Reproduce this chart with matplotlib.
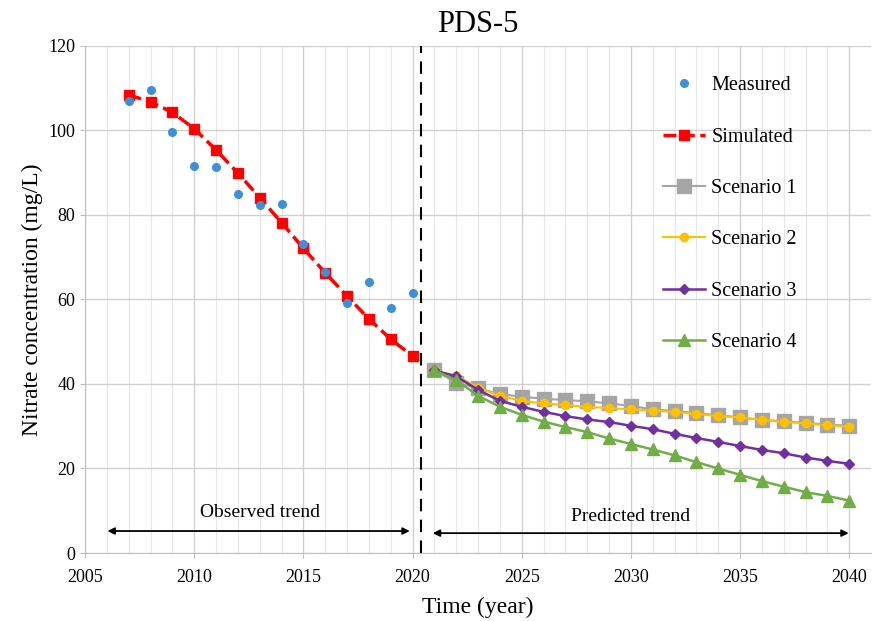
import numpy as np
import matplotlib.pyplot as plt

plt.rcParams['font.family'] = ['Liberation Serif', 'DejaVu Serif']

obs_years = np.arange(2007, 2021)
measured = [107.0, 109.6, 99.6, 91.7, 91.4, 85.0, 82.4, 82.7, 73.1, 66.5, 59.2, 64.2, 58.1, 61.5]
simulated = [108.4, 106.8, 104.3, 100.4, 95.4, 89.9, 84.1, 78.2, 72.1, 66.3, 60.8, 55.4, 50.6, 46.6]

pred_years = np.arange(2021, 2041)
scen1 = [43.2, 40.3, 39.0, 37.6, 37.0, 36.5, 36.2, 35.9, 35.4, 34.8,
         34.0, 33.6, 33.1, 32.6, 32.1, 31.5, 31.2, 30.8, 30.4, 30.1]
scen2 = [43.2, 42.0, 39.1, 37.2, 36.0, 35.4, 35.0, 34.6, 34.3, 34.0,
         33.7, 33.4, 32.9, 32.4, 32.1, 31.5, 31.0, 30.7, 30.2, 29.9]
scen3 = [43.2, 41.8, 38.6, 36.0, 34.6, 33.4, 32.4, 31.6, 31.0, 30.1,
         29.3, 28.2, 27.2, 26.3, 25.3, 24.4, 23.6, 22.6, 21.8, 21.1]
scen4 = [43.2, 40.9, 37.2, 34.6, 32.7, 31.1, 29.8, 28.6, 27.1, 25.8,
         24.5, 23.1, 21.5, 20.0, 18.5, 17.0, 15.7, 14.4, 13.5, 12.4]

fig = plt.figure(figsize=(8.72, 6.21), dpi=100)
ax = fig.add_axes([0.0975, 0.1095, 0.9015, 0.8165])

ax.plot(obs_years, measured, 'o', color='#3D8FD6', markersize=5.5, label='Measured', zorder=5)
ax.plot(obs_years, simulated, '--s', color='#FF0000', markersize=7.5, linewidth=2.5,
        label='Simulated', zorder=4)
ax.plot(pred_years, scen1, '-s', color='#A5A5A5', markersize=9.5, linewidth=1.5,
        label='Scenario 1', zorder=3)
ax.plot(pred_years, scen2, '-o', color='#FFC000', markersize=6, linewidth=1.5,
        label='Scenario 2', zorder=4)
ax.plot(pred_years, scen3, '-D', color='#7030A0', markersize=5, linewidth=1.8,
        label='Scenario 3', zorder=5)
ax.plot(pred_years, scen4, '-^', color='#70AD47', markersize=8, linewidth=1.8,
        label='Scenario 4', zorder=6)

ax.axvline(2020.4, color='black', linestyle=(0, (6, 4)), linewidth=1.5, zorder=7)

ax.annotate('', xy=(2005.9, 5.2), xytext=(2020.0, 5.2),
            arrowprops=dict(arrowstyle='<|-|>', color='black', lw=1.3, mutation_scale=10))
ax.annotate('', xy=(2020.8, 4.7), xytext=(2040.1, 4.7),
            arrowprops=dict(arrowstyle='<|-|>', color='black', lw=1.3, mutation_scale=10))
ax.text(2013.0, 9.5, 'Observed trend', ha='center', va='center', fontsize=14)
ax.text(2030.0, 8.7, 'Predicted trend', ha='center', va='center', fontsize=14)

ax.set_xlim(2005, 2041)
ax.set_ylim(0, 120)
ax.set_xticks(np.arange(2005, 2041, 5))
ax.set_xticks(np.arange(2005, 2042, 1), minor=True)
ax.set_yticks(np.arange(0, 121, 20))
ax.grid(which='major', color='#D0D0D0', linewidth=1.0)
ax.grid(which='minor', axis='x', color='#E6E6E6', linewidth=0.8)
ax.set_axisbelow(True)

for s in ['top', 'right']:
    ax.spines[s].set_visible(False)
for s in ['left', 'bottom']:
    ax.spines[s].set_color('#BFBFBF')
ax.tick_params(which='both', colors='#BFBFBF', labelcolor='black', labelsize=13)
ax.tick_params(axis='x', pad=8)
ax.tick_params(which='minor', length=0)

ax.set_xlabel('Time (year)', fontsize=17, labelpad=8)
ax.set_ylabel('Nitrate concentration (mg/L)', fontsize=17)
ax.set_title('PDS-5', fontsize=22, pad=10)

ax.legend(loc='upper left', bbox_to_anchor=(0.735, 0.94), frameon=False, fontsize=14.5,
          labelspacing=1.6, handlelength=2.1, handletextpad=0.3,
          borderpad=0, borderaxespad=0)

fig.savefig('out.png', dpi=100)
